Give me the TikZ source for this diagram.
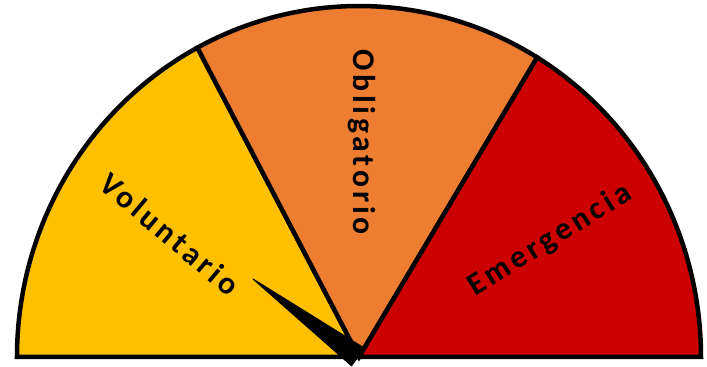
\documentclass[tikz,border=0pt]{standalone}
\usepackage{fontspec}
\newfontfamily\gaugefont[LetterSpace=12]{Carlito}
\usetikzlibrary{positioning}

\definecolor{volyellow}{HTML}{FFC000}
\definecolor{oblorange}{HTML}{ED7D31}
\definecolor{emered}{HTML}{CC0000}

\begin{document}
\begin{tikzpicture}[
    x=0.02cm, y=0.02cm,
    sector/.style={draw=black, line width=0.09cm, line join=miter},
    label/.style={font=\gaugefont\bfseries\fontsize{18}{18}\selectfont, text=black, inner sep=0pt},
    needle/.style={fill=black, draw=black, line width=0.02cm}
]

% ─── Canvas ──────────────────────────────────────────────────────────
\useasboundingbox (-359, -10) rectangle (348, 357);

% ─── Sectors ─────────────────────────────────────────────────────────
\draw[sector, fill=volyellow] (0,0) -- (180:342 and 351) arc[start angle=180, end angle=118.2, x radius=342, y radius=351] -- cycle;
\draw[sector, fill=oblorange] (0,0) -- (118.2:342 and 351) arc[start angle=118.2, end angle=58.6, x radius=342, y radius=351] -- cycle;
\draw[sector, fill=emered] (0,0) -- (58.6:342 and 351) arc[start angle=58.6, end angle=0, x radius=342, y radius=351] -- cycle;

% ─── Labels ──────────────────────────────────────────────────────────
\node[label, rotate=-40] (voluntario) at (-189, 123) {Voluntario};
\node[label, rotate=-90] (obligatorio) at (3, 215) {Obligatorio};
\node[label, rotate=32] (emergencia) at (191, 117) {Emergencia};

% ─── Needle ──────────────────────────────────────────────────────────
\coordinate (hub) at (-1, 0);
\coordinate (tip) at (-106, 78);
\draw[needle] (tip) -- ([shift={(6.5,8.8)}]hub) -- ([shift={(-6.5,-8.8)}]hub) -- cycle;

\end{tikzpicture}
\end{document}
